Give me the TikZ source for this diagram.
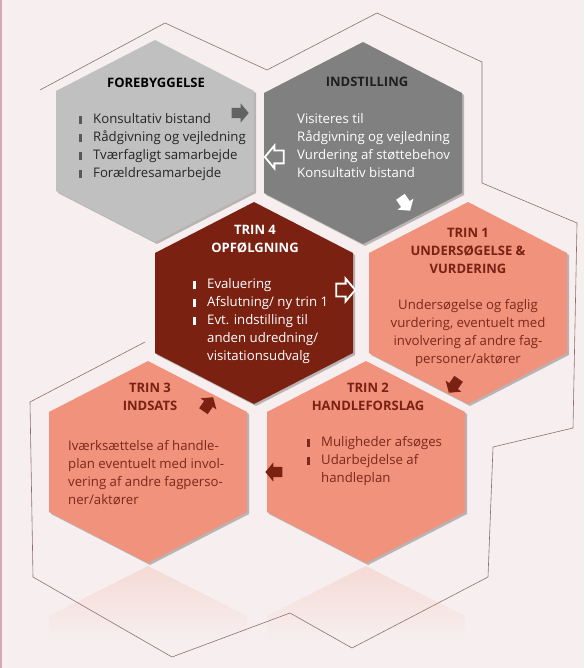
\documentclass[tikz,border=0pt]{standalone}
\usepackage{fontspec}
\setmainfont{Open Sans}
\usetikzlibrary{calc, shapes, shapes.arrows, shadows, fadings}

\definecolor{paper}{RGB}{247,239,239}
\definecolor{strip}{RGB}{214,168,178}
\definecolor{frame}{RGB}{140,112,112}
\definecolor{lightgrey}{RGB}{192,192,192}
\definecolor{midgrey}{RGB}{128,128,128}
\definecolor{arrowgrey}{RGB}{98,98,98}
\definecolor{bulletgrey}{RGB}{88,88,88}
\definecolor{darkred}{RGB}{122,33,18}
\definecolor{salmon}{RGB}{240,146,124}
\definecolor{redtext}{RGB}{125,40,26}

\tikzset{
	hexshadow/.style={drop shadow={shadow xshift=2pt, shadow yshift=-2pt, fill=black, opacity=.25}},
	hextitle/.style={font=\bfseries\fontsize{13}{18}\selectfont, align=center, inner sep=0pt},
	hexbody/.style={font=\fontsize{13.2}{18}\selectfont, inner sep=0pt},
	blockarrow/.style={single arrow, minimum height=17pt, inner xsep=0pt, inner ysep=5pt, single arrow head extend=4.5pt, single arrow tip angle=100},
	hollowarrow/.style={blockarrow, draw=white, line width=1.8pt, minimum height=19pt, inner ysep=5.5pt, single arrow head extend=5pt},
}

\newcommand{\hexTikz}[3]{ % args = name, centre, colour
	\coordinate (#1) at #2;
	\fill[#3, hexshadow] ($(#1)+(0,-101)$) -- ($(#1)+(99,-50)$) -- ($(#1)+(99,50)$) -- ($(#1)+(0,101)$) -- ($(#1)+(-99,50)$) -- ($(#1)+(-99,-50)$) -- cycle; % body of hexagon
}
\newcommand{\mirrorTikz}[2]{ % args = name of hexagon, colour
	\fill[#2, opacity=.22, path fading=south] ($(#1)+(0,104)$) -- ($(#1)+(99,154)$) -- ($(#1)+(99,178)$) -- ($(#1)+(-99,178)$) -- ($(#1)+(-99,154)$) -- cycle; % reflection below hexagon
}
\newcommand{\barBullet}{\makebox[14pt][l]{\rule[-1pt]{2.4pt}{8.5pt}}}
\newcommand{\greyBullet}{\textcolor{bulletgrey}{\barBullet}}
\newcommand{\noBullet}{\hspace*{14pt}}

\begin{document}
\begin{tikzpicture}[x=1pt, y=-1pt]
	\useasboundingbox (0,0) rectangle (584,668);
	\fill[paper] (0,0) rectangle (584,668);
	\draw[strip, line width=2pt] (1,0) -- (1,668);
		% outline behind the hexagons
		\draw[frame, line width=.6pt] (40,90) -- (165,23) -- (267,70) -- (377,13) -- (482,62) -- (482,183) -- (577,223) -- (573,428) -- (493,447) -- (488,577) -- (352,648) -- (290,613) -- (172,657) -- (33,577) -- (30,402) -- (145,342);
		% hexagons
		\hexTikz{fore}{(155,141)}{lightgrey}
		\hexTikz{inds}{(363,143)}{midgrey}
		\hexTikz{t4}{(254,303)}{darkred}
		\hexTikz{t1}{(468,303)}{salmon}
		\hexTikz{t3}{(148,462)}{salmon}
		\hexTikz{t2}{(366,462)}{salmon}
		\mirrorTikz{t3}{salmon}
		\mirrorTikz{t2}{salmon}
		% titles
		\node[hextitle, text=black] (foretitle) at (156,83) {FOREBYGGELSE};
		\node[hextitle, text=black!88] (indstitle) at (367,82) {INDSTILLING};
		\node[hextitle, text=white] (t4title) at (255,239) {TRIN 4\\OPFØLGNING};
		\node[hextitle, text=darkred] (t1title) at (468,251) {TRIN 1\\UNDERSØGELSE \&\\VURDERING};
		\node[hextitle, text=darkred] (t3title) at (150,397) {TRIN 3\\INDSATS};
		\node[hextitle, text=darkred] (t2title) at (368,397) {TRIN 2\\HANDLEFORSLAG};
		% texts
		\node[hexbody, text=black!85, align=left, anchor=west] (forebody) at (79,147) {\greyBullet Konsultativ bistand\\\greyBullet Rådgivning og vejledning\\\greyBullet Tværfagligt samarbejde\\\greyBullet Forældresamarbejde};
		\node[hexbody, text=white, align=left, anchor=west] (indsbody) at (297,146) {Visiteres til\\Rådgivning og vejledning\\Vurdering af støttebehov\\Konsultativ bistand};
		\node[hexbody, text=white, align=left, anchor=west] (t4body) at (193,321) {\barBullet Evaluering\\\barBullet Afslutning/ ny trin 1\\\barBullet Evt. indstilling til\\\noBullet anden udredning/\\\noBullet visitationsudvalg};
		\node[hexbody, text=redtext, align=center] (t1body) at (468,333) {Undersøgelse og faglig\\vurdering, eventuelt med\\involvering af andre fag-\\personer/aktører};
		\node[hexbody, text=redtext, align=left, anchor=west] (t3body) at (68,473) {Iværksættelse af handle-\\plan eventuelt med invol-\\vering af andre fagperso-\\ner/aktører};
		\node[hexbody, text=redtext, align=left, anchor=west] (t2body) at (307,461) {\barBullet Muligheder afsøges\\\barBullet Udarbejdelse af\\\noBullet handleplan};
		% arrows between the steps
		\node[blockarrow, fill=arrowgrey] (a1) at (238,113) {};
		\node[hollowarrow, fill=midgrey, rotate=180] (a2) at (277,157) {};
		\node[blockarrow, fill=white, rotate=-55] (a3) at (404,202) {};
		\node[hollowarrow, fill=darkred] (a4) at (343,290) {};
		\node[blockarrow, fill=darkred, rotate=-125] (a5) at (455,384) {};
		\node[blockarrow, fill=darkred, rotate=180] (a6) at (276,472) {};
		\node[blockarrow, fill=darkred, rotate=55] (a7) at (207,406) {};
\end{tikzpicture}
\end{document}
